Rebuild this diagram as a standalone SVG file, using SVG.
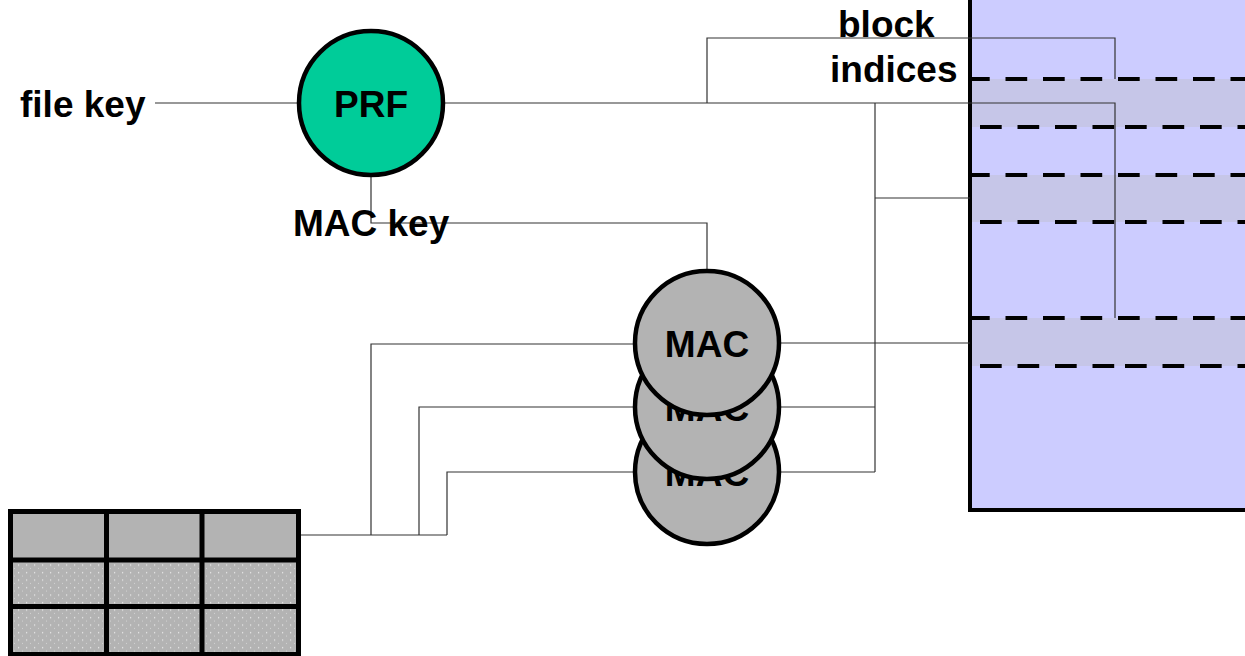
<svg xmlns="http://www.w3.org/2000/svg" width="1245" height="656" viewBox="0 0 1245 656">
<style>
.t{font-family:"Liberation Sans",Arial,sans-serif;font-weight:bold;font-size:37px;fill:#000}
.c{fill:none;stroke:#333;stroke-width:1.2}
.dA{stroke:#000;stroke-width:4;stroke-dasharray:21.7 15.8}
.band{fill:#c6c6e8}
.cell{fill:#b3b3b3}
.dot{fill:url(#dots)}
.grid{fill:none;stroke:#000;stroke-width:5}
.mac{fill:#b3b3b3;stroke:#000;stroke-width:4.5}
</style>
<defs>
<pattern id="dots" width="8" height="7.5" patternUnits="userSpaceOnUse">
<rect width="8" height="7.5" fill="#b3b3b3"/>
<rect x="2" y="2" width="1.2" height="1.2" fill="#ececec"/>
<rect x="6" y="5.5" width="1" height="1" fill="#d4d4d4"/>
</pattern>
</defs>
<rect width="1245" height="656" fill="#fff"/>
<g id="storage">
<rect x="970" y="-10" width="300" height="520" fill="#ccccff" stroke="#000" stroke-width="4"/>
<rect class="band" x="972" y="79" width="280" height="48"/>
<rect class="band" x="972" y="175" width="280" height="47"/>
<rect class="band" x="972" y="318" width="280" height="48"/>
<line class="dA" x1="968" y1="79" x2="1245" y2="79"/>
<line class="dA" x1="968" y1="175" x2="1245" y2="175"/>
<line class="dA" x1="968" y1="318" x2="1245" y2="318"/>
<line class="dA" x1="980" y1="127" x2="1116" y2="127"/>
<line class="dA" x1="1125" y1="127" x2="1245" y2="127"/>
<line class="dA" x1="980" y1="222" x2="1116" y2="222"/>
<line class="dA" x1="1125" y1="222" x2="1245" y2="222"/>
<line class="dA" x1="980" y1="366" x2="1116" y2="366"/>
<line class="dA" x1="1125" y1="366" x2="1245" y2="366"/>
</g>
<g id="connectors">
<polyline class="c" points="155,103 300,103"/>
<polyline class="c" points="444,103 1115,103 1115,318"/>
<polyline class="c" points="707,103 707,38 1115,38 1115,79"/>
<polyline class="c" points="875,103 875,472"/>
<polyline class="c" points="875,198 970,198"/>
<polyline class="c" points="779,343 970,343"/>
<polyline class="c" points="779,407 875,407"/>
<polyline class="c" points="779,472 875,472"/>
<polyline class="c" points="371,175 371,223 707,223 707,271"/>
<polyline class="c" points="300,535 447,535"/>
<polyline class="c" points="371,535 371,344 636,344"/>
<polyline class="c" points="419,535 419,407 636,407"/>
<polyline class="c" points="447,535 447,472 636,472"/>
</g>
<g id="prf">
<circle cx="371" cy="103" r="72" fill="#00cc99" stroke="#000" stroke-width="4.5"/>
<text class="t" x="371" y="117" text-anchor="middle">PRF</text>
</g>
<g id="mac3">
<circle class="mac" cx="707" cy="472" r="72"/>
<text class="t" x="707" y="486" text-anchor="middle">MAC</text>
</g>
<g id="mac2">
<circle class="mac" cx="707" cy="407" r="72"/>
<text class="t" x="707" y="421" text-anchor="middle">MAC</text>
</g>
<g id="mac1">
<circle class="mac" cx="707" cy="343" r="72"/>
<text class="t" x="707" y="357" text-anchor="middle">MAC</text>
</g>
<g id="table">
<rect class="cell" x="10" y="511" width="96" height="49"/>
<rect class="cell" x="106" y="511" width="96" height="49"/>
<rect class="cell" x="202" y="511" width="97" height="49"/>
<rect class="dot" x="10" y="560" width="96" height="47"/>
<rect class="dot" x="106" y="560" width="96" height="47"/>
<rect class="dot" x="202" y="560" width="97" height="47"/>
<rect class="dot" x="10" y="607" width="96" height="49"/>
<rect class="dot" x="106" y="607" width="96" height="49"/>
<rect class="dot" x="202" y="607" width="97" height="49"/>
<rect class="grid" x="10.5" y="511.5" width="288" height="143"/>
<line class="grid" x1="106.5" y1="511" x2="106.5" y2="656"/>
<line class="grid" x1="202" y1="511" x2="202" y2="656"/>
<line class="grid" x1="10" y1="560" x2="299" y2="560"/>
<line class="grid" x1="10" y1="606.5" x2="299" y2="606.5"/>
</g>
<g id="labels">
<text class="t" x="20" y="117">file key</text>
<text class="t" x="293" y="236">MAC key</text>
<text class="t" x="838" y="37">block</text>
<text class="t" x="830" y="82">indices</text>
</g>
</svg>
